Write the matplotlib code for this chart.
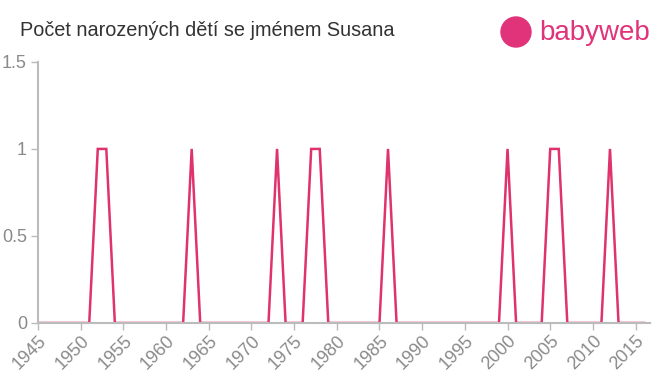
import matplotlib.pyplot as plt
from matplotlib.patches import Ellipse

plt.rcParams['font.family'] = ['Liberation Sans', 'DejaVu Sans']

years = list(range(1945, 2017))
ones = [1952, 1953, 1963, 1973, 1977, 1978, 1986, 2000, 2005, 2006, 2012]
counts = [1 if y in ones else 0 for y in years]

xticks = list(range(1945, 2020, 5))
yticks = [0, 0.5, 1, 1.5]
ytick_labels = ['0', '0.5', '1', '1.5']

fig = plt.figure(figsize=(6.6, 3.75), dpi=100)
ax = fig.add_axes([0.0576, 0.1387, 0.9274, 0.6963])

ax.plot(years, counts, color='#e0336b', linewidth=1.8, solid_joinstyle='miter')
ax.set_xlim(1945, 2016.7)
ax.set_ylim(0, 1.5)
ax.set_xticks(xticks)
ax.set_xticklabels([str(t) for t in xticks], rotation=45, ha='right',
                   rotation_mode='anchor', fontsize=13, color='#8a8a8a')
ax.set_yticks(yticks)
ax.set_yticklabels(ytick_labels, fontsize=13, color='#8a8a8a')
ax.tick_params(axis='both', color='#bbbbbb', length=5, width=1)
ax.tick_params(axis='x', pad=2)
ax.tick_params(axis='y', pad=3)
for s in ['top', 'right']:
    ax.spines[s].set_visible(False)
for s in ['left', 'bottom']:
    ax.spines[s].set_color('#bbbbbb')
    ax.spines[s].set_linewidth(1.5)

fig.text(20 / 660, 1 - 30 / 375, 'Počet narozených dětí se jménem Susana',
         fontsize=14.3, color='#333333', va='center', ha='left')

# logo
fig.patches.append(Ellipse((516 / 660, 1 - 32 / 375), 30 / 660, 30 / 375,
                           transform=fig.transFigure, color='#e0337a'))
fig.text(539 / 660, 1 - 33 / 375, 'babyweb', fontsize=20, color='#e0337a',
         va='center', ha='left')

fig.savefig('out.png', dpi=100)
